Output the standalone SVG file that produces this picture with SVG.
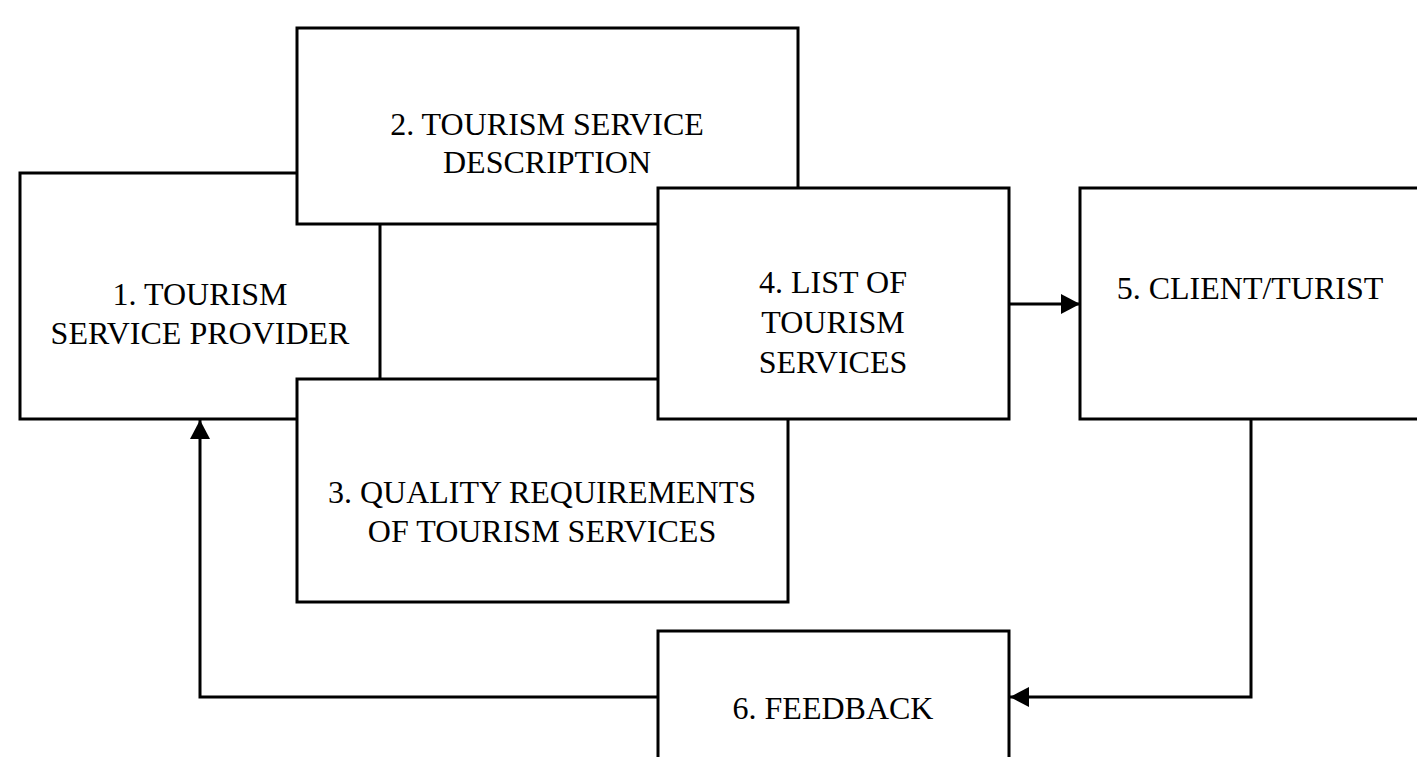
<svg xmlns="http://www.w3.org/2000/svg" width="1417" height="757" viewBox="0 0 1417 757">
  <style>
    .box { fill: #ffffff; stroke: #000000; stroke-width: 3; }
    .lbl { font-family: "Liberation Serif", "Times New Roman", serif; font-size: 32px; fill: #000000; text-anchor: middle; }
    .wire { fill: none; stroke: #000000; stroke-width: 3; }
  </style>
  <defs>
    <marker id="head" markerUnits="userSpaceOnUse" markerWidth="20" markerHeight="20" refX="19" refY="10" orient="auto">
      <path d="M0,0 L19,10 L0,20 Z" fill="#000000"/>
    </marker>
  </defs>

  <rect width="1417" height="757" fill="#ffffff"/>

  <g id="node-provider">
    <rect class="box" x="20" y="173" width="360" height="246"/>
    <text class="lbl" x="200" y="305">1. TOURISM</text>
    <text class="lbl" x="200" y="344">SERVICE PROVIDER</text>
  </g>

  <g id="node-description">
    <rect class="box" x="297" y="28" width="501" height="196"/>
    <text class="lbl" x="547" y="135">2. TOURISM SERVICE</text>
    <text class="lbl" x="547" y="173">DESCRIPTION</text>
  </g>

  <g id="node-quality">
    <rect class="box" x="297" y="379" width="491" height="223"/>
    <text class="lbl" x="542" y="503">3. QUALITY REQUIREMENTS</text>
    <text class="lbl" x="542" y="542">OF TOURISM SERVICES</text>
  </g>

  <g id="node-list">
    <rect class="box" x="658" y="188" width="351" height="231"/>
    <text class="lbl" x="833" y="293">4. LIST OF</text>
    <text class="lbl" x="833" y="333">TOURISM</text>
    <text class="lbl" x="833" y="373">SERVICES</text>
  </g>

  <g id="node-client">
    <rect class="box" x="1080" y="188" width="345" height="231"/>
    <text class="lbl" x="1250" y="299">5. CLIENT/TURIST</text>
  </g>

  <g id="node-feedback">
    <rect class="box" x="658" y="631" width="351" height="200"/>
    <text class="lbl" x="833" y="719">6. FEEDBACK</text>
  </g>

  <g id="connectors">
    <path class="wire" d="M1009 304 H1080" marker-end="url(#head)"/>
    <path class="wire" d="M1251 419 V697 H1010" marker-end="url(#head)"/>
    <path class="wire" d="M658 697 H200 V420" marker-end="url(#head)"/>
  </g>
</svg>
